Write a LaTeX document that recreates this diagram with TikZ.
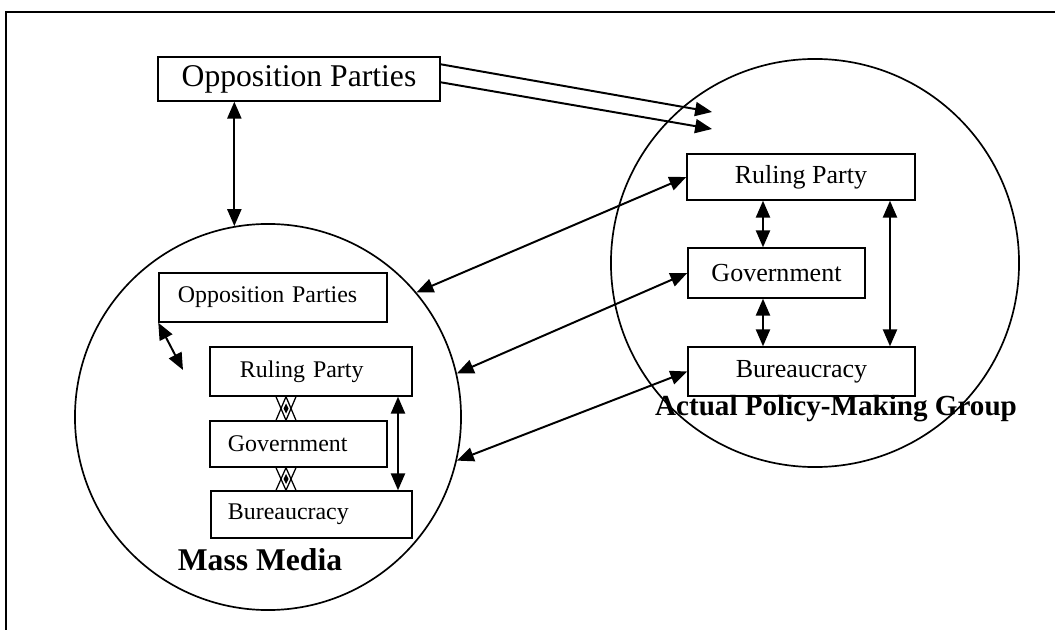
\documentclass[tikz,border=0pt]{standalone}
\usepackage{fontspec}
\setmainfont{Liberation Serif}
\usetikzlibrary{arrows.meta,calc}

\begin{document}
\begin{tikzpicture}[x=0.025cm, y=-0.025cm,
  >={Triangle[length=12pt,width=10pt]},
  box/.style={draw, line width=1pt, inner sep=0pt, align=center},
  lbox/.style={draw, line width=1pt, inner ysep=0pt, align=left},
  arr/.style={<->, line width=1.4pt},
  ring/.style={circle, draw, line width=1.2pt, inner sep=0pt},
  bigtext/.style={font=\fontsize{22.5}{26}\selectfont},
  rtext/.style={font=\fontsize{18.5}{22}\selectfont},
  ltext/.style={font=\fontsize{17}{20}\selectfont}]
  \useasboundingbox (0,0) rectangle (1055,630);
  \draw [line width=1pt] (6,630) -- (6,12) -- (1055,12);

  % the two groups
  \node[ring, minimum size=9.65cm] (mm) at (268,417) {};
  \node[ring, minimum size=10.2cm] (apg) at (815,263) {};

  \node[box, bigtext, minimum width=7.05cm, minimum height=1.1cm] (opp) at (299,79) {Opposition Parties};

  \node[box, rtext, minimum width=5.7cm, minimum height=1.15cm] (rp) at (801,177) {Ruling Party};
  \node[box, rtext, minimum width=4.425cm, minimum height=1.25cm] (gov) at (776.5,273) {Government};
  \node[box, rtext, minimum width=5.675cm, minimum height=1.225cm] (bur) at (801.5,371.5) {Bureaucracy};

  \node[lbox, ltext, inner xsep=0.475cm, text width=4.75cm, minimum height=1.225cm] (oppL) at (273,297.5) {Opposition Parties};
  \node[lbox, ltext, inner xsep=0.75cm, text width=3.55cm, minimum height=1.225cm] (rpL) at (311,371.5) {Ruling Party};
  \node[lbox, ltext, inner xsep=0.45cm, text width=3.525cm, minimum height=1.15cm] (govL) at (298.5,444) {Government};
  \node[lbox, ltext, inner xsep=0.425cm, text width=4.175cm, minimum height=1.175cm] (burL) at (311.5,514.5) {Bureaucracy};

  \node[anchor=base, font=\bfseries\fontsize{22.5}{26}\selectfont] (mmname) at (260,570) {Mass Media};
  \node[anchor=base, font=\bfseries\fontsize{20.7}{24}\selectfont] (apgname) at (836,415) {Actual Policy-Making Group};

  % arrows
  \coordinate (t1) at (712,112);
  \coordinate (t2) at (712,129);
  \draw [->, line width=1.4pt] ($(opp.north east)+(0,8)$) -- (t1);
  \draw [->, line width=1.4pt] ($(opp.north east)+(0,26)$) -- (t2);
  \draw [arr] (mm.100 |- opp.south) -- (mm.100);

  \draw [arr] (rp.west) -- (mm.40);
  \draw [arr] (gov.west) -- (mm.13);
  \draw [arr] (bur.west) -- (mm.-13);

  \coordinate (rx) at (763,0);
  \coordinate (ry) at (890,0);
  \draw [arr] (rx |- rp.south) -- (rx |- gov.north);
  \draw [arr] (rx |- gov.south) -- (rx |- bur.north);
  \draw [arr] (ry |- rp.south) -- (ry |- bur.north);

  \coordinate (oe) at (183,370);
  \draw [arr] (oppL.south west) -- (oe);
  \coordinate (lx) at (398,0);
  \draw [arr] (lx |- rpL.south) -- (lx |- burL.north);

  % squeezed double arrows
  \coordinate (xx) at (286,0);
  \draw [line width=0.9pt] ($(xx |- rpL.south)+(-10,0)$) -- (xx |- govL.north) -- ($(xx |- rpL.south)+(10,0)$);
  \draw [line width=0.9pt] ($(xx |- govL.north)+(-10,0)$) -- (xx |- rpL.south) -- ($(xx |- govL.north)+(10,0)$);
  \fill ($(xx |- rpL.south)!0.5!(xx |- govL.north)$) +(0,-5) -- +(2.5,0) -- +(0,5) -- +(-2.5,0) -- cycle;
  \draw [line width=0.9pt] ($(xx |- govL.south)+(-10,0)$) -- (xx |- burL.north) -- ($(xx |- govL.south)+(10,0)$);
  \draw [line width=0.9pt] ($(xx |- burL.north)+(-10,0)$) -- (xx |- govL.south) -- ($(xx |- burL.north)+(10,0)$);
  \fill ($(xx |- govL.south)!0.5!(xx |- burL.north)$) +(0,-5) -- +(2.5,0) -- +(0,5) -- +(-2.5,0) -- cycle;
\end{tikzpicture}
\end{document}
